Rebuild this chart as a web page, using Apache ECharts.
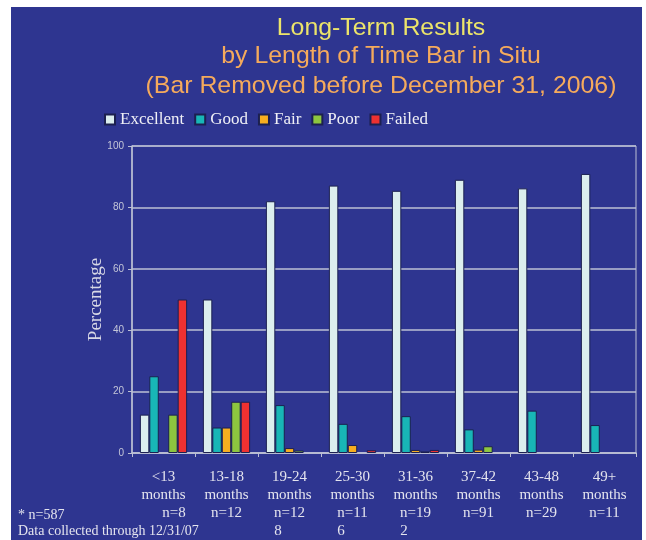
<!DOCTYPE html>
<html>
<head>
<meta charset="utf-8">
<script src="https://cdn.jsdelivr.net/npm/echarts@6/dist/echarts.min.js"></script>
<style>
  html, body { margin: 0; padding: 0; background: #ffffff; }
  #bg { position: absolute; left: 11px; top: 7px; width: 631px; height: 533px; background: #2E3590; }
  #chart { position: absolute; left: 0; top: 0; width: 646px; height: 540px; }
</style>
</head>
<body>
<div id="bg"></div>
<div id="chart"></div>
<script>
// ---- Data ----
const categories = ['<13', '13-18', '19-24', '25-30', '31-36', '37-42', '43-48', '49+'];
const sampleSizes = [8, 12, 128, 116, 192, 91, 29, 11];
const seriesNames = ['Excellent', 'Good', 'Fair', 'Poor', 'Failed'];
const excellent = [12.5, 50.0, 82.0, 87.1, 85.4, 89.0, 86.2, 90.9];
const good      = [25.0, 8.3, 15.6, 9.5, 12.0, 7.7, 13.8, 9.1];
const fair      = [0, 8.3, 1.6, 2.6, 1.0, 1.1, 0, 0];
const poor      = [12.5, 16.7, 0.8, 0, 0.5, 2.2, 0, 0];
const failed    = [50.0, 16.7, 0, 0.9, 1.0, 0, 0, 0];
const yMin = 0, yMax = 100, yInterval = 20;
const titleLines = ['Long-Term Results', 'by Length of Time Bar in Situ', '(Bar Removed before December 31, 2006)'];
const footnotes = ['* n=587', 'Data collected through 12/31/07'];
const yAxisTitle = 'Percentage';

const seriesValues = [excellent, good, fair, poor, failed];
const colors = ['#DCEEEE', '#18B6B6', '#F7AE1F', '#8DC63F', '#EE3131'];

const serif = '"Liberation Serif", "Times New Roman", serif';
const sans = '"Liberation Sans", Arial, sans-serif';
const labelColor = '#E4E4EE';
const lineColor = '#BCC0D4';

const chart = echarts.init(document.getElementById('chart'), null, { renderer: 'canvas' });

const baseRich = { fontSize: 15, fontFamily: serif, color: labelColor, lineHeight: 18 };

function titleText(text, y, fill) {
  return {
    type: 'text', x: 381, y: y, scaleX: 1.035, originX: 0,
    style: { text: text, fill: fill, font: '24px ' + sans, align: 'center', verticalAlign: 'middle', textAlign: 'center', textVerticalAlign: 'middle' }
  };
}

const option = {
  animation: false,
  color: colors,
  grid: { left: 132, right: 10, top: 146, bottom: 87, show: true, borderColor: lineColor, borderWidth: 1 },
  legend: {
    left: 104, top: 111, padding: 0,
    itemWidth: 10, itemHeight: 10, itemGap: 10,
    icon: 'rect',
    textStyle: { fontFamily: serif, fontSize: 17, color: '#F0F0F6' },
    data: seriesNames
  },
  xAxis: {
    type: 'category',
    data: categories,
    axisLine: { lineStyle: { color: lineColor, width: 1.5 } },
    axisTick: { show: true, length: 4, lineStyle: { color: lineColor } },
    axisLabel: {
      interval: 0,
      margin: 15,
      formatter: function (value, index) {
        const s = 'n=' + sampleSizes[index];
        let txt = '{c|' + value + '}\n{c|months}\n';
        if (s.length > 4) {
          txt += '{c|' + s.slice(0, 4) + '}\n{w|' + s.slice(4) + '}';
        } else if (index === 0) {
          txt += '{r|' + s + '}';
        } else {
          txt += '{c|' + s + '}';
        }
        return txt;
      },
      rich: {
        c: Object.assign({}, baseRich),
        w: Object.assign({}, baseRich, { padding: [0, 23, 0, 0] }),
        r: Object.assign({}, baseRich, { padding: [0, 0, 0, 21] })
      }
    }
  },
  yAxis: {
    type: 'value',
    min: yMin, max: yMax, interval: yInterval,
    name: yAxisTitle,
    nameLocation: 'middle',
    nameGap: 26,
    nameMoveOverlap: false,
    nameTextStyle: { fontFamily: serif, fontSize: 19, color: '#D8D8E6' },
    axisLine: { show: true, lineStyle: { color: lineColor, width: 1.5 } },
    axisTick: { show: true, length: 4, lineStyle: { color: lineColor } },
    axisLabel: { fontFamily: sans, fontSize: 10, color: '#C4C6D8', margin: 8 },
    splitLine: { lineStyle: { color: lineColor, width: 1.5 } }
  },
  series: seriesNames.map(function (name, i) {
    return {
      name: name,
      type: 'bar',
      data: seriesValues[i].map(function (v) {
        return v === 0 ? { value: v, itemStyle: { borderWidth: 0 } } : v;
      }),
      barGap: '0%',
      barCategoryGap: '25%',
      itemStyle: { color: colors[i], borderColor: '#1C2050', borderWidth: 1 }
    };
  }),
  graphic: [
    titleText(titleLines[0], 28, '#ECE46A'),
    titleText(titleLines[1], 56, '#F5AA5C'),
    titleText(titleLines[2], 86, '#F5AA5C'),
    { type: 'text', x: 18, y: 515, style: { text: footnotes[0], fill: labelColor, font: '14px ' + serif, align: 'left', verticalAlign: 'middle', textAlign: 'left', textVerticalAlign: 'middle' } },
    { type: 'text', x: 18, y: 531, style: { text: footnotes[1], fill: labelColor, font: '14px ' + serif, align: 'left', verticalAlign: 'middle', textAlign: 'left', textVerticalAlign: 'middle' } }
  ]
};

chart.setOption(option);
</script>
</body>
</html>
